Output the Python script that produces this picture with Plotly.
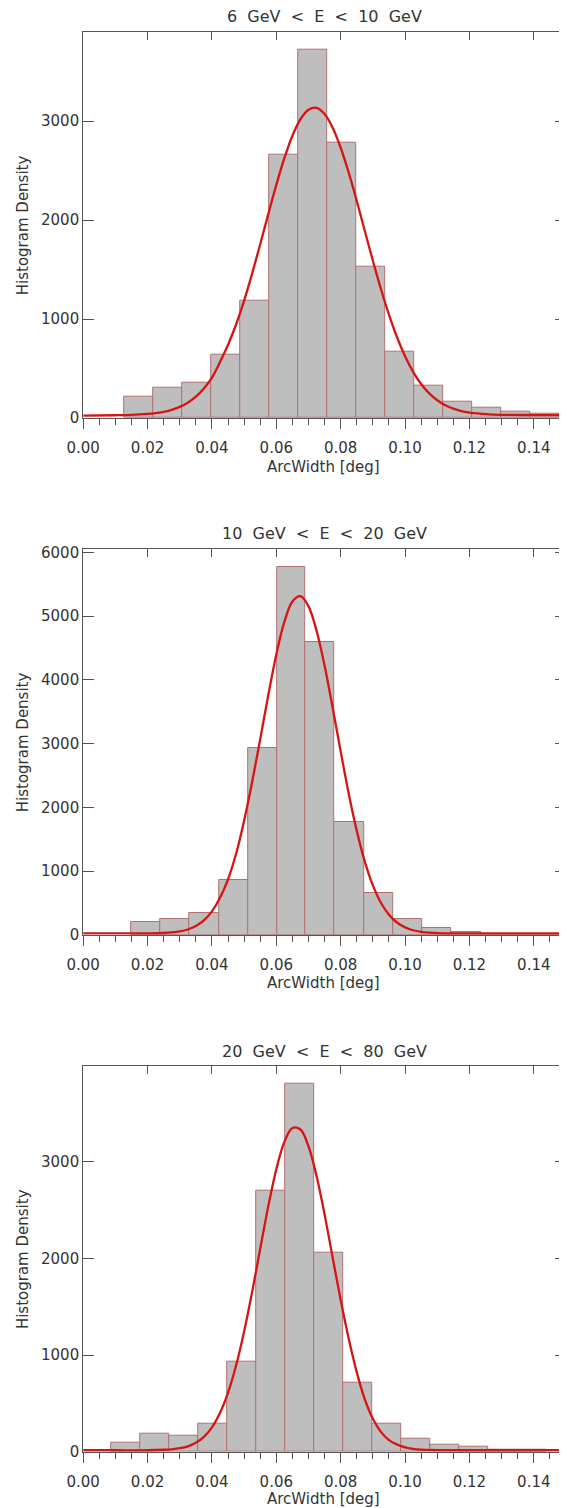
import plotly.graph_objects as go

# The page body adds an 8 px margin, so the figure is drawn 8 px smaller and
# every pixel position below (given in page pixels) is shifted by that margin.
PAGE_W, PAGE_H = 567, 1508
OFF = 8
W, H = PAGE_W - OFF, PAGE_H - OFF

titles = ["6 GeV < E < 10 GeV", "10 GeV < E < 20 GeV", "20 GeV < E < 80 GeV"]
x_title = "ArcWidth [deg]"
y_title = "Histogram Density"

# ---- panel 1 : 6 GeV < E < 10 GeV
edges1 = [0.0128, 0.0218, 0.0308, 0.0398, 0.0488, 0.0578, 0.0668, 0.0758, 0.0848,
          0.0938, 0.1028, 0.1118, 0.1208, 0.1298, 0.1388, 0.1478, 0.1568]
dens1 = [215, 310, 357, 643, 1190, 2663, 3724, 2785, 1525, 673, 327, 165, 104, 64, 47, 40]
fit_x1 = [0.000, 0.010, 0.015, 0.0200, 0.0225, 0.0250, 0.0275, 0.0300, 0.0325, 0.0350,
          0.0375, 0.0400, 0.0425, 0.0450, 0.0475, 0.0500, 0.0525, 0.0550, 0.0575, 0.0600,
          0.0625, 0.0650, 0.0675, 0.0700, 0.0725, 0.0750, 0.0775, 0.0800, 0.0825, 0.0850,
          0.0875, 0.0900, 0.0925, 0.0950, 0.0975, 0.1000, 0.1025, 0.1050, 0.1075, 0.1100,
          0.1125, 0.1150, 0.1175, 0.1200, 0.1250, 0.1300, 0.1400, 0.1500]
fit_y1 = [25, 28, 32, 42, 50, 63, 82, 112, 155, 216,
          299, 409, 565, 740, 945, 1186, 1462, 1757, 2061, 2356,
          2626, 2853, 3021, 3117, 3135, 3072, 2935, 2732, 2479, 2193,
          1891, 1590, 1304, 1044, 816, 624, 467, 344, 249, 179,
          129, 94, 70, 55, 39, 32, 30, 30]

# ---- panel 2 : 10 GeV < E < 20 GeV
edges2 = [0.0150, 0.0239, 0.0330, 0.0421, 0.0512, 0.0602, 0.0690, 0.0781, 0.0872,
          0.0963, 0.1054, 0.1144, 0.1235, 0.1325, 0.1416, 0.1506]
dens2 = [204, 241, 346, 854, 2936, 5777, 4590, 1765, 650, 251, 100, 40, 15, 10, 8]
fit_x2 = [0.000, 0.010, 0.020, 0.0250, 0.0275, 0.0300, 0.0325, 0.0350, 0.0375, 0.0400,
          0.0425, 0.0450, 0.0475, 0.0500, 0.0525, 0.0550, 0.0575, 0.0600, 0.0625, 0.0650,
          0.0675, 0.0700, 0.0725, 0.0750, 0.0775, 0.0800, 0.0825, 0.0850, 0.0875, 0.0900,
          0.0925, 0.0950, 0.0975, 0.1000, 0.1025, 0.1050, 0.1075, 0.1100, 0.1150, 0.1200,
          0.1350, 0.1500]
fit_y2 = [20, 20, 21, 27, 36, 52, 82, 135, 224, 366,
          579, 870, 1270, 1790, 2400, 3070, 3760, 4400, 4910, 5231,
          5314, 5154, 4773, 4221, 3564, 2875, 2214, 1630, 1148, 774,
          501, 314, 191, 115, 70, 45, 32, 26, 21, 20,
          20, 20]

# ---- panel 3 : 20 GeV < E < 80 GeV
edges3 = [0.0087, 0.0177, 0.0267, 0.0357, 0.0447, 0.0537, 0.0627, 0.0717, 0.0807,
          0.0897, 0.0987, 0.1077, 0.1167, 0.1257, 0.1347, 0.1437]
dens3 = [93, 188, 166, 293, 926, 2695, 3806, 2058, 718, 293, 131, 69, 49, 18, 18]
fit_x3 = [0.000, 0.010, 0.020, 0.0250, 0.0275, 0.0300, 0.0325, 0.0350, 0.0375, 0.0400,
          0.0425, 0.0450, 0.0475, 0.0500, 0.0525, 0.0550, 0.0575, 0.0600, 0.0625, 0.0650,
          0.0675, 0.0700, 0.0725, 0.0750, 0.0775, 0.0800, 0.0825, 0.0850, 0.0875, 0.0900,
          0.0925, 0.0950, 0.0975, 0.1000, 0.1025, 0.1050, 0.1075, 0.1100, 0.1200, 0.1350,
          0.1500]
fit_y3 = [15, 15, 15, 20, 25, 36, 56, 93, 154, 252,
          400, 610, 891, 1243, 1654, 2099, 2537, 2921, 3204, 3348,
          3332, 3158, 2851, 2452, 2009, 1568, 1167, 820, 540, 340,
          205, 120, 75, 45, 30, 22, 18, 16, 15, 15,
          15]

y_max = [3905, 6055, 3992]
x_ticks = [0.00, 0.02, 0.04, 0.06, 0.08, 0.10, 0.12, 0.14]
x_tick_text = ["0.00", "0.02", "0.04", "0.06", "0.08", "0.10", "0.12", "0.14"]

panels = [(edges1, dens1, fit_x1, fit_y1),
          (edges2, dens2, fit_x2, fit_y2),
          (edges3, dens3, fit_x3, fit_y3)]

# page-pixel geometry of the three plot boxes (top, bottom)
boxes = [(31.7, 418.0), (549.0, 934.7), (1065.7, 1451.7)]
left_px, right_px = 83.2, 566.0
title_y = [16.7, 533.3, 1051.7]
xtitle_y = [467.0, 982.7, 1499.0]


def fx_(px):
    return (px - OFF) / W


def fy_(py):
    return 1 - (py - OFF) / H


FONT = "DejaVu Sans"
TXT = "#333333"
AX = "#555555"

fig = go.Figure()
layout = dict(width=W, height=H, margin=dict(l=0, r=0, t=0, b=0, pad=0),
              paper_bgcolor="white", plot_bgcolor="white", showlegend=False,
              font=dict(family=FONT, size=15, color=TXT), annotations=[])

for i, (edges, dens, fx, fy) in enumerate(panels):
    n = i + 1
    xa = "x" if n == 1 else f"x{n}"
    ya = "y" if n == 1 else f"y{n}"
    centers = [(edges[k] + edges[k + 1]) / 2 for k in range(len(dens))]
    widths = [edges[k + 1] - edges[k] for k in range(len(dens))]
    fig.add_trace(go.Bar(x=centers, y=dens, width=widths, xaxis=xa, yaxis=ya,
                         marker=dict(color="rgb(190,190,190)",
                                     line=dict(color="rgb(178,112,112)", width=1)),
                         hoverinfo="skip"))
    fig.add_trace(go.Scatter(x=fx, y=fy, mode="lines", xaxis=xa, yaxis=ya,
                             line=dict(color="rgb(215,20,20)", width=2.3, shape="spline",
                                       smoothing=1.0),
                             hoverinfo="skip"))
    top_n = n + 3
    fig.add_trace(go.Scatter(x=[None], y=[None], xaxis=f"x{top_n}", yaxis=ya,
                             mode="markers", hoverinfo="skip"))

    top, bot = boxes[i]
    dom_y = [fy_(bot), fy_(top)]
    dom_x = [fx_(left_px), min(1.0, fx_(right_px))]

    layout["xaxis" if n == 1 else f"xaxis{n}"] = dict(
        domain=dom_x, anchor=ya, range=[0, 0.15], showgrid=False, zeroline=False,
        automargin=False,
        showline=True, linecolor=AX, linewidth=1, mirror=True,
        tickmode="array", tickvals=x_ticks, ticktext=x_tick_text,
        ticks="outside", ticklen=10, tickcolor=AX, tickwidth=1,
        ticklabelstandoff=6,
        minor=dict(dtick=0.005, tick0=0, ticks="outside", ticklen=6, tickcolor=AX,
                   tickwidth=1, showgrid=False),
        tickfont=dict(family=FONT, size=15, color=TXT))
    layout[f"xaxis{top_n}"] = dict(
        overlaying=xa, anchor=ya, side="top", range=[0, 0.15], showgrid=False,
        zeroline=False, showline=False, automargin=False,
        tickmode="array", tickvals=x_ticks,
        ticks="inside", ticklen=8, tickcolor=AX, tickwidth=1, showticklabels=False)
    layout["yaxis" if n == 1 else f"yaxis{n}"] = dict(
        domain=dom_y, anchor=xa, range=[0, y_max[i]], showgrid=False, zeroline=False,
        automargin=False,
        showline=True, linecolor=AX, linewidth=1, mirror="ticks",
        tick0=0, dtick=1000, ticks="inside", ticklen=11, tickcolor=AX, tickwidth=1,
        ticklabelstandoff=0, tickfont=dict(family=FONT, size=15, color=TXT))

    cx = (left_px + right_px) / 2
    layout["annotations"].append(dict(
        text=titles[i].replace("<", "&lt;").replace(" ", "&nbsp;&nbsp;"),
        x=fx_(cx), y=fy_(title_y[i]), xref="paper", yref="paper",
        xanchor="center", yanchor="middle", showarrow=False,
        font=dict(family=FONT, size=16, color=TXT)))
    layout["annotations"].append(dict(
        text=x_title, x=fx_(323.5), y=fy_(xtitle_y[i]), xref="paper", yref="paper",
        xanchor="center", yanchor="middle", showarrow=False,
        font=dict(family=FONT, size=15, color=TXT)))
    layout["annotations"].append(dict(
        text=y_title, x=fx_(22.4), y=fy_((top + bot) / 2), xref="paper", yref="paper",
        xanchor="center", yanchor="middle", showarrow=False, textangle=-90,
        font=dict(family=FONT, size=15, color=TXT)))

layout["barmode"] = "overlay"
layout["bargap"] = 0
fig.update_layout(**layout)
fig.write_html("out.html")
